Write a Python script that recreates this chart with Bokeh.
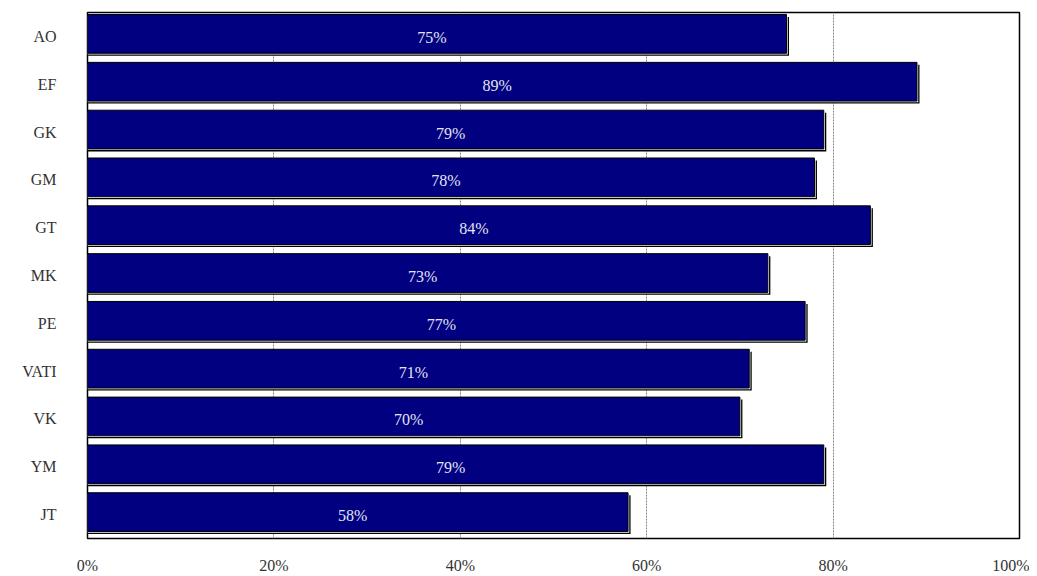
from bokeh.plotting import figure
from bokeh.models import ColumnDataSource, FactorRange, FixedTicker, LabelSet
from bokeh.transform import dodge
from bokeh.embed import file_html
from bokeh.resources import INLINE

categories = ["AO", "EF", "GK", "GM", "GT", "MK", "PE", "VATI", "VK", "YM", "JT"]
values = [75, 89, 79, 78, 84, 73, 77, 71, 70, 79, 58]
x_ticks = [0, 20, 40, 60, 80, 100]
x_tick_labels = {t: f"{t}%" for t in x_ticks}

FONT = "Liberation Serif"

# pixel helpers (plot frame 932 x 528 px)
px_x = 100 / 932.0
px_y = 1 / 48.0

src = ColumnDataSource(dict(
    cat=categories,
    val=values,
    shadow=[v + 2.5 * px_x for v in values],
    white=[v + 1.2 * px_x for v in values],
    mid=[v / 2 - 5 * px_x for v in values],
    lab=[f"{v}%" for v in values],
))

p = figure(width=1029, height=576, output_backend="svg", toolbar_location=None,
           y_range=FactorRange(factors=list(reversed(categories)), range_padding=0),
           x_range=(0, 100))
p.min_border_left = 87
p.min_border_right = 10
p.min_border_top = 12
p.min_border_bottom = 36

off = 0.052
h = 0.81
p.hbar(y=dodge("cat", off - 2.5 * px_y, range=p.y_range), left=0, right="shadow",
       height=h, source=src, fill_color="black", line_color=None)
p.hbar(y=dodge("cat", off - 1.2 * px_y, range=p.y_range), left=0, right="white",
       height=h, source=src, fill_color="white", line_color=None)
p.hbar(y=dodge("cat", off, range=p.y_range), left=0, right="val",
       height=h, source=src, fill_color="#000080", line_color="black", line_width=1)

labels = LabelSet(x="mid", y=dodge("cat", -0.02, range=p.y_range), text="lab", source=src,
                  text_align="center", text_baseline="middle", text_color="#e4e4f2",
                  text_font=FONT, text_font_size="16px")
p.add_layout(labels)

p.xaxis.ticker = FixedTicker(ticks=x_ticks)
p.xaxis.major_label_overrides = x_tick_labels
for ax in (p.xaxis, p.yaxis):
    ax.axis_line_color = None
    ax.major_tick_line_color = None
    ax.minor_tick_line_color = None
    ax.major_label_text_font = FONT
    ax.major_label_text_font_size = "16px"
    ax.major_label_text_color = "#333333"
p.xaxis.major_label_standoff = 12
p.yaxis.major_label_standoff = 25

p.xgrid.ticker = FixedTicker(ticks=[20, 40, 60, 80])
p.xgrid.grid_line_color = "#888888"
p.xgrid.grid_line_dash = "2 1"
p.xgrid.grid_line_width = 1
p.ygrid.grid_line_color = None

p.outline_line_color = "black"
p.outline_line_width = 1.5
p.background_fill_color = "white"
p.border_fill_color = "white"

open("out.html", "w").write(file_html(p, INLINE))
